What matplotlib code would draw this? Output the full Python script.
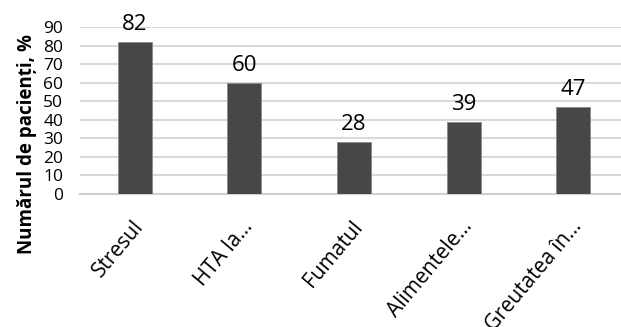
import matplotlib.pyplot as plt
from matplotlib.transforms import ScaledTranslation

categories = ['Stresul', 'HTA la…', 'Fumatul', 'Alimentele…', 'Greutatea în…']
values = [82, 60, 28, 39, 47]
yticks = [0, 10, 20, 30, 40, 50, 60, 70, 80, 90]

plt.rcParams['font.family'] = ['Open Sans', 'DejaVu Sans']

fig = plt.figure(figsize=(6.21, 3.27), dpi=100)
ax = fig.add_axes([80 / 621, 1 - 194 / 327, 548 / 621, 167 / 327])

x = range(len(categories))
ax.bar(x, values, width=0.31, color='#474747', edgecolor='#8a8a8a', linewidth=0.6, zorder=3)
for i, v in zip(x, values):
    ax.annotate(str(v), (i, v), xytext=(0, 5), textcoords='offset points',
                ha='center', va='bottom', fontsize=16, color='black')

ax.set_xlim(-0.5, len(categories) - 0.5)
ax.set_ylim(0, 90)
ax.set_yticks(yticks)
ax.yaxis.grid(True, color='#d9d9d9', linewidth=1.5, zorder=0)
ax.tick_params(axis='y', length=0, pad=12, labelsize=12.5)
ax.tick_params(axis='x', length=0, pad=21, labelsize=15)
ax.set_xticks(list(x))
ax.set_xticklabels(categories, rotation=50, ha='right', va='center', rotation_mode='anchor')
shift = ScaledTranslation(5 / 100, 0, fig.dpi_scale_trans)
for lab in ax.get_xticklabels():
    lab.set_transform(lab.get_transform() + shift)
for s in ['top', 'right', 'left']:
    ax.spines[s].set_visible(False)
ax.spines['bottom'].set_color('#d0d0d0')
ax.spines['bottom'].set_linewidth(1.5)
ax.set_ylabel('Numărul de pacienți, %', fontsize=13.5, fontweight='bold')
ax.yaxis.set_label_coords(-43 / 548, 0.30)

fig.savefig('out.png', dpi=100)
